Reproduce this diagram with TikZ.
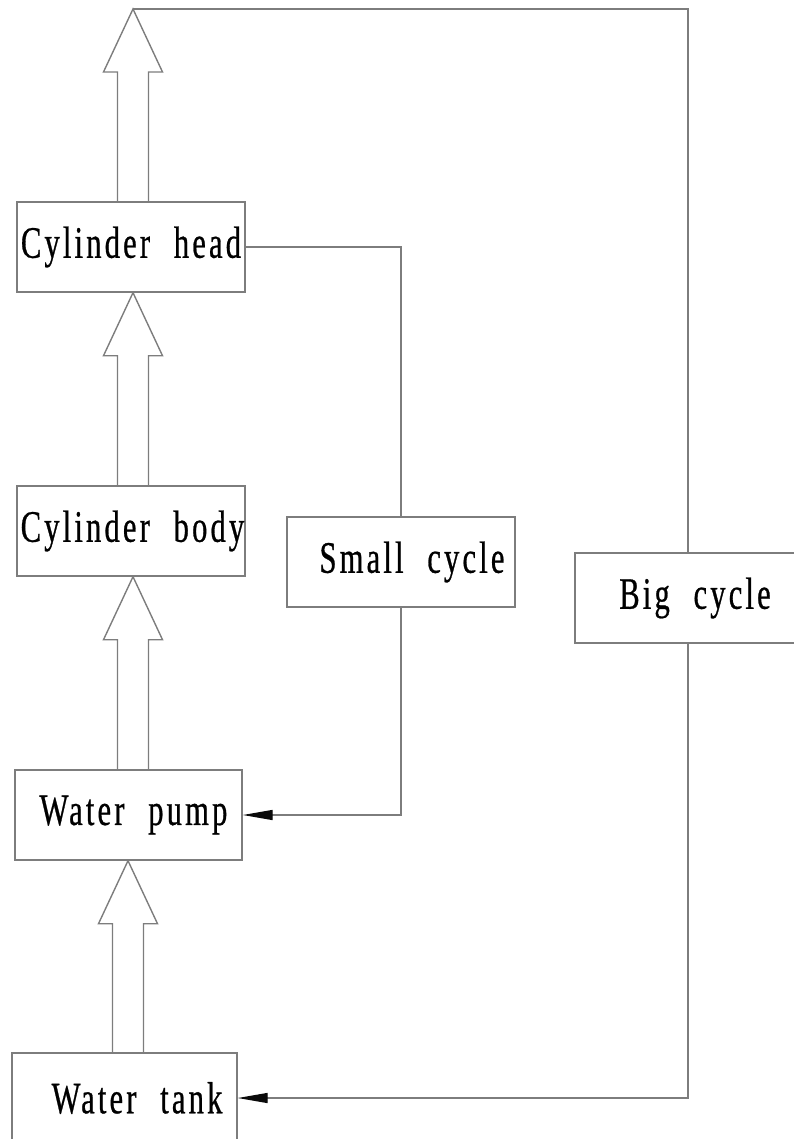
\documentclass[tikz,border=0pt]{standalone}
\usepackage{fontspec}
\usepackage{xcolor}
\usepackage{tikz}
\usetikzlibrary{
  arrows.meta,
  positioning,
  calc
}
\newfontfamily\partfont[FakeStretch=0.68,LetterSpace=7,WordSpace=2.2,FakeBold=0.6]{Liberation Serif}
\definecolor{LineGray}{RGB}{125,125,125}
\definecolor{TipBlack}{RGB}{10,10,10}
%% hollow up-arrow: [x offset]{base}{tip}
\newcommand{\upflow}[3][0]{%
  \draw[flow] ($(#2)+(#1-15.5,0)$) -- ($(#2 |- #3)+(#1-15.5,63)$)
    -- ($(#2 |- #3)+(#1-29.5,63)$) -- ($(#2 |- #3)+(#1,0)$)
    -- ($(#2 |- #3)+(#1+29.5,63)$) -- ($(#2 |- #3)+(#1+15.5,63)$)
    -- ($(#2)+(#1+15.5,0)$);%
}
\tikzset{
  %%-- boxes ---------------------------------------------------
  part/.style = {
    rectangle, draw = LineGray, line width = 1.4pt,
    minimum width = 228pt, minimum height = 90pt, inner sep = 0pt,
    font = \partfont\fontsize{45}{45}\selectfont, text = black
  },
  %%-- lines ---------------------------------------------------
  flow/.style = {draw = LineGray, line width = 1.4pt, line join = miter},
  pipe/.style = {draw = LineGray, line width = 1.4pt},
  ret/.style  = {pipe, -{Triangle[length=30pt, width=10pt, color=TipBlack]}},
}
\begin{document}
\begin{tikzpicture}[x = 1pt, y = -1pt]
  \useasboundingbox (0,0) rectangle (794,1139);

  \node[part] (head) at (131,247) {Cylinder head};
  \node[part] (body) at (131,531) {\hspace*{3pt}Cylinder body};
  \node[part, minimum width = 227pt] (pump) at (128.5,815) {\hspace*{10pt}Water pump};
  \node[part, minimum width = 225pt] (tank) at (124.5,1098) {\hspace*{25pt}Water tank};

  \node[part] (small) at (401,562) {\hspace*{22pt}Small cycle};
  \node[part, minimum width = 226pt] (big) at (688,598) {\hspace*{14pt}Big cycle};

  \coordinate (top) at (133,9);

  %% main flow
  \upflow[2]{head.north}{top}
  \upflow[2]{body.north}{head.south}
  \upflow[4.5]{pump.north}{body.south}
  \upflow[3.5]{tank.north}{pump.south}

  %% return lines
  \draw[pipe] (head.east) -| (small.north);
  \draw[ret]  (small.south) |- (pump.east);
  \draw[pipe] (top) -| (big.north);
  \draw[ret]  (big.south) |- (tank.east);

\end{tikzpicture}
\end{document}
